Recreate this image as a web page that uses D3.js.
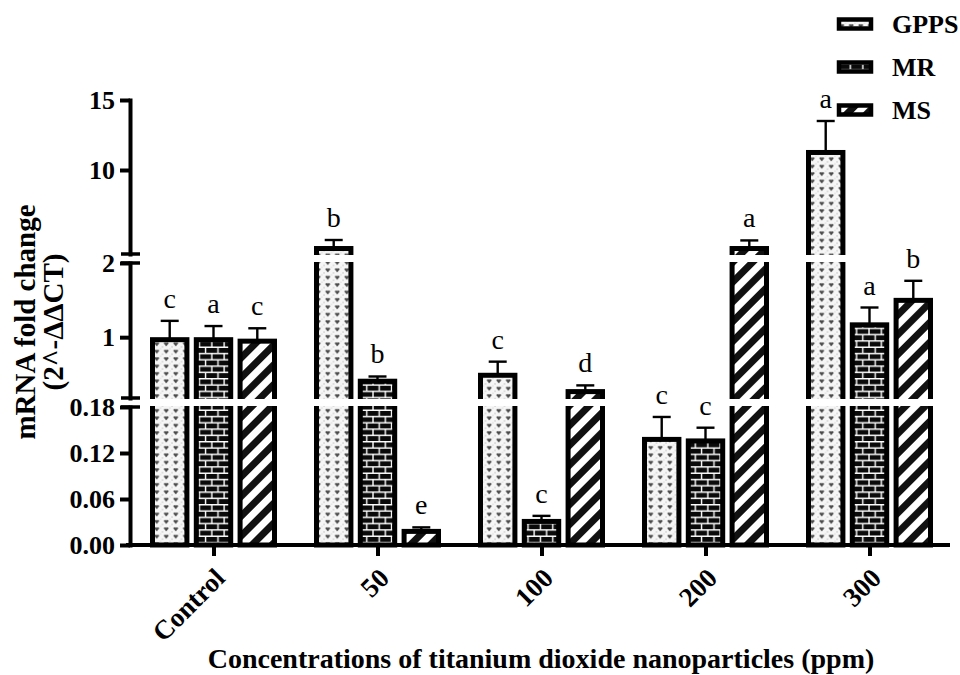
<!DOCTYPE html>
<html>
<head>
<meta charset="utf-8">
<script src="https://cdn.jsdelivr.net/npm/d3@7"></script>
<style>
  html, body { margin: 0; padding: 0; background: #fff; }
  svg { display: block; }
  text { font-family: "Liberation Serif", "Times New Roman", serif; fill: #000; }
</style>
</head>
<body>
<svg id="chart" width="960" height="675"></svg>
<script>
// Concentration groups and treatments
const categories = ["Control", "50", "100", "200", "300"];
const series = ["GPPS", "MR", "MS"];

// Mean mRNA fold change (2^-ΔΔCT) per treatment, in category order
const gpps = [1.00, 4.57, 0.52, 0.141, 11.43];
const mr   = [1.00, 0.44, 0.034, 0.139, 1.20];
const ms   = [0.98, 0.021, 0.30, 4.57, 1.53];

// Upper error (SD) per treatment
const gppsErr = [0.22, 0.43, 0.15, 0.026, 2.07];
const mrErr   = [0.15, 0.03, 0.004, 0.014, 0.20];
const msErr   = [0.14, 0.002, 0.05, 0.40, 0.23];

// Significance letters
const gppsSig = ["c", "b", "c", "c", "a"];
const mrSig   = ["a", "b", "c", "c", "a"];
const msSig   = ["c", "e", "d", "a", "b"];

// Segmented y axis: tick labels per segment
const bottomTicks = [0, 0.06, 0.12, 0.18];
const middleTicks = [1, 2];
const topTicks = [10, 15];

const values = { GPPS: gpps, MR: mr, MS: ms };
const errors = { GPPS: gppsErr, MR: mrErr, MS: msErr };
const sigs = { GPPS: gppsSig, MR: mrSig, MS: msSig };

const rows = [];
categories.forEach((c, i) => series.forEach(s => rows.push({
  cat: c, series: s, value: values[s][i], err: errors[s][i], sig: sigs[s][i]
})));

const svg = d3.select("#chart");
const defs = svg.append("defs");

// --- fill patterns ---
const pG = defs.append("pattern").attr("id", "pat-GPPS")
  .attr("patternUnits", "userSpaceOnUse").attr("width", 9.5).attr("height", 7.4);
pG.append("rect").attr("width", 9.5).attr("height", 7.4).attr("fill", "#f6f6f6");
pG.append("circle").attr("cx", 1).attr("cy", 6.5).attr("r", 0.7).attr("fill", "#b8b8b8");
pG.append("circle").attr("cx", 8.5).attr("cy", 1).attr("r", 0.6).attr("fill", "#c8c8c8");
pG.append("path").attr("d", "M2.6,2.4 L4.75,5 L6.9,2.4 M3.4,2.1 L4.75,3.6 L6.1,2.1")
  .attr("fill", "none").attr("stroke", "#4a4a4a").attr("stroke-width", 1.2);

const pM = defs.append("pattern").attr("id", "pat-MR")
  .attr("patternUnits", "userSpaceOnUse").attr("width", 12.4).attr("height", 12.6);
pM.append("rect").attr("width", 12.4).attr("height", 12.6).attr("fill", "#0a0a0a");
pM.append("path")
  .attr("d", "M0,0.7 H12.4 M0,7 H12.4 M1,0.7 V7 M7.2,7 V12.6")
  .attr("stroke", "#fff").attr("stroke-width", 1.4).attr("fill", "none");

const pS = defs.append("pattern").attr("id", "pat-MS")
  .attr("patternUnits", "userSpaceOnUse").attr("width", 14).attr("height", 14)
  .attr("patternTransform", "rotate(45)");
pS.append("rect").attr("width", 14).attr("height", 14).attr("fill", "#fff");
pS.append("rect").attr("width", 7).attr("height", 14).attr("fill", "#111");

// --- scales ---
const x = d3.scaleBand().domain(categories).range([132, 952]).padding(0);
const xs = d3.scaleBand().domain(series).range([-64, 63]).paddingInner(0.1);

const yBot = d3.scaleLinear().domain([0, 0.18]).range([545, 407]);
const yMid = d3.scaleLinear().domain([0.18, 2]).range([398, 263]);
const yTop = d3.scaleLinear().domain([4, 15]).range([254, 100]);
const y = v => v <= 0.18 ? yBot(v) : (v <= 2 ? yMid(v) : yTop(v));

const sw = 5; // bar outline width
const barX = d => x(d.cat) + x.bandwidth() / 2 + xs(d.series);

// --- bars ---
svg.append("g").selectAll("rect").data(rows).join("rect")
  .attr("x", d => barX(d) + sw / 2)
  .attr("y", d => y(d.value) + sw / 2)
  .attr("width", xs.bandwidth() - sw)
  .attr("height", d => y(0) - y(d.value) - sw / 2)
  .attr("fill", d => `url(#pat-${d.series})`)
  .attr("stroke", "#000").attr("stroke-width", sw);

// gaps where the axis is broken
const gaps = [[yMid(0.18), yBot(0.18)], [yTop(4), yMid(2)]];
svg.append("g").selectAll("rect").data(gaps).join("rect")
  .attr("x", 133).attr("width", 952 - 133)
  .attr("y", d => d[0] + 1).attr("height", d => d[1] - d[0] - 2)
  .attr("fill", "#fff");

// --- error bars ---
const eb = svg.append("g").attr("stroke", "#000").attr("stroke-width", 2.4);
rows.forEach(d => {
  const cx = barX(d) + xs.bandwidth() / 2;
  const y0 = y(d.value) + 1, y1 = y(d.value + d.err);
  eb.append("line").attr("x1", cx).attr("x2", cx).attr("y1", y0).attr("y2", y1);
  eb.append("line").attr("x1", cx - 9).attr("x2", cx + 9).attr("y1", y1).attr("y2", y1);
});

// --- significance letters ---
svg.append("g").selectAll("text").data(rows).join("text")
  .attr("x", d => barX(d) + xs.bandwidth() / 2)
  .attr("y", d => y(d.value + d.err) - 13)
  .attr("text-anchor", "middle")
  .style("font-size", "28px")
  .text(d => d.sig);

// --- y axis segments ---
function styleAxis(g) {
  g.select(".domain").attr("stroke-width", 4).attr("stroke-linecap", "square");
  g.selectAll(".tick line").attr("stroke-width", 4);
  g.selectAll(".tick text").style("font-size", "26px").style("font-weight", "bold")
    .style("font-family", "'Liberation Serif', 'Times New Roman', serif");
}
const axisY = (scale, ticks, fmt) => svg.append("g")
  .attr("transform", "translate(130,0)")
  .call(d3.axisLeft(scale).tickValues(ticks).tickSize(10).tickSizeOuter(0)
    .tickPadding(5).tickFormat(fmt))
  .call(styleAxis);
axisY(yBot, bottomTicks, d3.format(".2f"));
axisY(yMid, middleTicks, d3.format("d"));
axisY(yTop, topTicks, d3.format("d"));

// break marks
const breaks = [yBot(0.18), yMid(0.18), yMid(2), yTop(4)];
svg.append("g").selectAll("line").data(breaks).join("line")
  .attr("x1", 121).attr("x2", 140).attr("y1", d => d).attr("y2", d => d)
  .attr("stroke", "#000").attr("stroke-width", 3.5);

// --- x axis ---
const gx = svg.append("g").attr("transform", `translate(0,${y(0)})`)
  .call(d3.axisBottom(x).tickSize(11).tickSizeOuter(0))
  .call(styleAxis);
gx.select(".domain").attr("d", "M128,0H948");
gx.selectAll(".tick text")
  .attr("y", 0).attr("dy", "0.35em")
  .attr("text-anchor", "end")
  .attr("transform", "translate(6,28) rotate(-45)")
  .style("font-size", "27px");

// --- axis titles ---
svg.append("text")
  .attr("transform", "translate(35,322) rotate(-90)")
  .attr("text-anchor", "middle")
  .style("font-size", "29px").style("font-weight", "bold")
  .text("mRNA fold change");
svg.append("text")
  .attr("transform", "translate(63,322) rotate(-90)")
  .attr("text-anchor", "middle")
  .style("font-size", "29px").style("font-weight", "bold")
  .text("(2^-ΔΔCT)");
svg.append("text")
  .attr("x", 541).attr("y", 668)
  .attr("text-anchor", "middle")
  .style("font-size", "28px").style("font-weight", "bold")
  .text("Concentrations of titanium dioxide nanoparticles (ppm)");

// --- legend ---
const legend = svg.append("g").attr("transform", "translate(837,0)");
const ly = d3.scalePoint().domain(series).range([24, 110]);
legend.selectAll("rect").data(series).join("rect")
  .attr("x", 2).attr("y", d => ly(d) - 4.5)
  .attr("width", 32).attr("height", 9)
  .attr("fill", d => `url(#pat-${d})`)
  .attr("stroke", "#000").attr("stroke-width", 4.5);
legend.selectAll("text").data(series).join("text")
  .attr("x", 55).attr("y", d => ly(d)).attr("dy", "0.35em")
  .style("font-size", "26px").style("font-weight", "bold")
  .text(d => d);
</script>
</body>
</html>
